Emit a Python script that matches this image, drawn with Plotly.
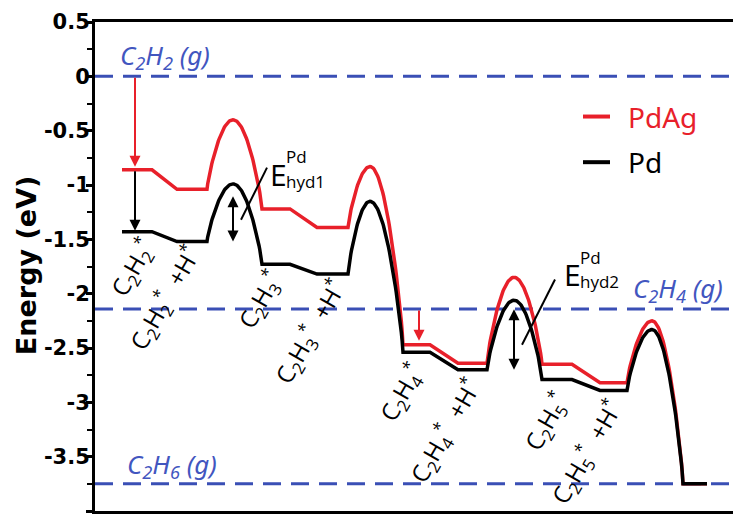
import numpy as np
import plotly.graph_objects as go

# Intermediate energies (eV) along the acetylene hydrogenation path
states = ["C2H2*", "C2H2*+H*", "C2H3*", "C2H3*+H*", "C2H4*", "C2H4*+H*",
          "C2H5*", "C2H5*+H*", "C2H6(g)"]
pdag_states = [-0.86, -1.04, -1.22, -1.39, -2.47, -2.64, -2.65, -2.82, -3.75]
pd_states = [-1.43, -1.52, -1.73, -1.82, -2.54, -2.70, -2.79, -2.89, -3.75]
# Transition-state energies (eV)
pdag_ts = [-0.40, -0.83, -1.85, -2.25]
pd_ts = [-0.99, -1.15, -2.06, -2.33]
# Gas-phase reference levels (eV)
gas_labels = ["C<sub>2</sub>H<sub>2</sub> (g)", "C<sub>2</sub>H<sub>4</sub> (g)",
              "C<sub>2</sub>H<sub>6</sub> (g)"]
gas_levels = [0.0, -2.14, -3.75]
# Axis ticks
ytick_vals = [0.5, 0, -0.5, -1, -1.5, -2, -2.5, -3, -3.5, -4]
ytick_text = ["0.5", "0", "-0.5", "-1", "-1.5", "-2", "-2.5", "-3", "-3.5", "-4"]

# Reaction-coordinate layout: plateau spans and barrier-top positions
span_start = [27, 82, 167, 222, 308, 363, 447, 505, 588]
span_end = [57, 112, 195, 253, 335, 392, 477, 532, 612]
ts_pos = [138, 275, 419, 557]


def profile(st, ts):
    xs, ys = [], []
    n = 40
    for k in range(4):
        i, j = 2 * k, 2 * k + 1
        # first intermediate plateau, straight step to the co-adsorbed state
        xs += [span_start[i], span_end[i], span_start[j], span_end[j]]
        ys += [st[i], st[i], st[j], st[j]]
        # rounded barrier over the transition state
        t = np.linspace(0, 1, n)[1:]
        xa, xp, xb = span_end[j], ts_pos[k], span_start[j + 1]
        a, p, b = st[j], ts[k], st[j + 1]
        xs += list(xa + (xp - xa) * t)
        ys += list(a + (p - a) * np.sin(np.pi / 2 * t) ** 0.8)
        xs += list(xp + (xb - xp) * t)
        ys += list(p + (b - p) * (1 - np.cos(np.pi / 2 * t) ** 0.8))
    xs += [span_end[8]]
    ys += [st[8]]
    return xs, ys


RED = "#e8202a"
BLUE = "#3a4fb5"
BLUE_TXT = "#4256bf"

fig = go.Figure()

for lvl in gas_levels:
    fig.add_trace(go.Scatter(x=[0, 640], y=[lvl, lvl], mode="lines",
                             line=dict(color=BLUE, width=3, dash="18px,10px"),
                             hoverinfo="skip", showlegend=False))

xr, yr = profile(pdag_states, pdag_ts)
fig.add_trace(go.Scatter(x=xr, y=yr, mode="lines", name="PdAg",
                         line=dict(color=RED, width=3.5), showlegend=False))
xb_, yb_ = profile(pd_states, pd_ts)
fig.add_trace(go.Scatter(x=xb_, y=yb_, mode="lines", name="Pd",
                         line=dict(color="black", width=3.5), showlegend=False))

ann = []
lbl_font = dict(family="Open Sans", size=24, color="black")


def rich(name):
    out = ""
    for part in name.split("+"):
        s = part.replace("C2", "C<sub>2</sub>")
        for d in "2345":
            s = s.replace("H" + d, "H<sub>" + d + "</sub>")
        s = s.replace("*", "<sup>*</sup>")
        out += ("" if not out else "  +") + s
    return out


label_pos = [(37, -1.76), (70, -2.04), (165, -2.06), (215, -2.35),
             (306, -2.91), (350, -3.26), (451, -3.18), (492, -3.46)]
for name, (lx, ly) in zip(states[:8], label_pos):
    ann.append(dict(x=lx, y=ly, text=rich(name), showarrow=False, textangle=-60,
                    font=lbl_font, xanchor="center", yanchor="middle"))

gas_pos = [(70, 0.19), (583, -1.96), (77, -3.58)]
for txt, (gx, gy) in zip(gas_labels, gas_pos):
    ann.append(dict(x=gx, y=gy, text=txt, showarrow=False, xanchor="center",
                    font=dict(family="Noto Sans", size=26, color=BLUE_TXT,
                              style="italic")))

# Energy arrows
arrow_kw = dict(showarrow=True, arrowhead=2, arrowsize=1.1, arrowwidth=2,
                axref="x", ayref="y", text="")
ann.append(dict(x=40, y=pdag_states[0], ax=40, ay=gas_levels[0],
                arrowcolor=RED, standoff=3, **arrow_kw))
ann.append(dict(x=40, y=pd_states[0], ax=40, ay=pdag_states[0],
                arrowcolor="black", standoff=1, **arrow_kw))
ann.append(dict(x=324, y=pdag_states[4], ax=324, ay=gas_levels[1],
                arrowcolor=RED, standoff=4, **arrow_kw))
ann.append(dict(x=138, y=pd_states[1], ax=138, ay=pd_ts[0] - 0.1,
                arrowcolor="black", arrowside="end+start", **arrow_kw))
ann.append(dict(x=419, y=pd_states[5], ax=419, ay=pd_ts[2] - 0.07,
                arrowcolor="black", arrowside="end+start", **arrow_kw))

# Barrier labels E^Pd_hyd
for ex, ey, sub in [(173, -0.90, "hyd1"), (467, -1.825, "hyd2")]:
    ann.append(dict(x=ex, y=ey, text="E", showarrow=False, xanchor="left",
                    font=dict(family="Open Sans", size=30, color="black")))
    ann.append(dict(x=ex + 16, y=ey + 0.16, text="Pd", showarrow=False,
                    xanchor="left", font=dict(family="Open Sans", size=17,
                                              color="black")))
    ann.append(dict(x=ex + 16, y=ey - 0.065, text=sub, showarrow=False,
                    xanchor="left", font=dict(family="Open Sans", size=17,
                                              color="black")))

shapes = [
    dict(type="line", x0=172, y0=-0.84, x1=146, y1=-1.32, xref="x", yref="y",
         line=dict(color="black", width=2)),
    dict(type="line", x0=460, y0=-1.87, x1=427, y1=-2.47, xref="x", yref="y",
         line=dict(color="black", width=2)),
    # legend samples
    dict(type="line", x0=488, y0=-0.37, x1=515, y1=-0.37, xref="x", yref="y",
         line=dict(color=RED, width=4)),
    dict(type="line", x0=488, y0=-0.79, x1=515, y1=-0.79, xref="x", yref="y",
         line=dict(color="black", width=4)),
]
ann.append(dict(x=531, y=-0.37, text="PdAg", showarrow=False, xanchor="left",
                font=dict(family="Noto Sans", size=28, color=RED)))
ann.append(dict(x=531, y=-0.79, text="Pd", showarrow=False, xanchor="left",
                font=dict(family="Noto Sans", size=28, color="black")))

# y-axis title
ann.append(dict(x=-0.108, y=0.503, xref="paper", yref="paper", text="Energy (eV)",
                showarrow=False, textangle=-90, xanchor="center",
                yanchor="middle",
                font=dict(family="DejaVu Sans", size=27, color="black",
                          weight="bold")))

fig.update_layout(
    width=733, height=518,
    margin=dict(l=95, r=0, t=22, b=7),
    plot_bgcolor="white", paper_bgcolor="white",
    annotations=ann, shapes=shapes, showlegend=False,
    xaxis=dict(range=[0, 638], showgrid=False, zeroline=False,
               showticklabels=False, ticks="", showline=True, linewidth=3,
               linecolor="black", mirror=True, fixedrange=True),
    yaxis=dict(range=[-4, 0.5], tickvals=ytick_vals, ticktext=ytick_text,
               showgrid=False, zeroline=False, showline=True, linewidth=3,
               linecolor="black", ticks="outside", ticklen=6, tickwidth=2.5,
               tickcolor="black", ticklabelstandoff=-8,
               minor=dict(ticks="outside", dtick=0.25, ticklen=5, tickwidth=2,
                          tickcolor="black"),
               tickfont=dict(family="DejaVu Sans", size=21, color="black",
                             weight="bold")),
)

fig.write_html("out.html")
